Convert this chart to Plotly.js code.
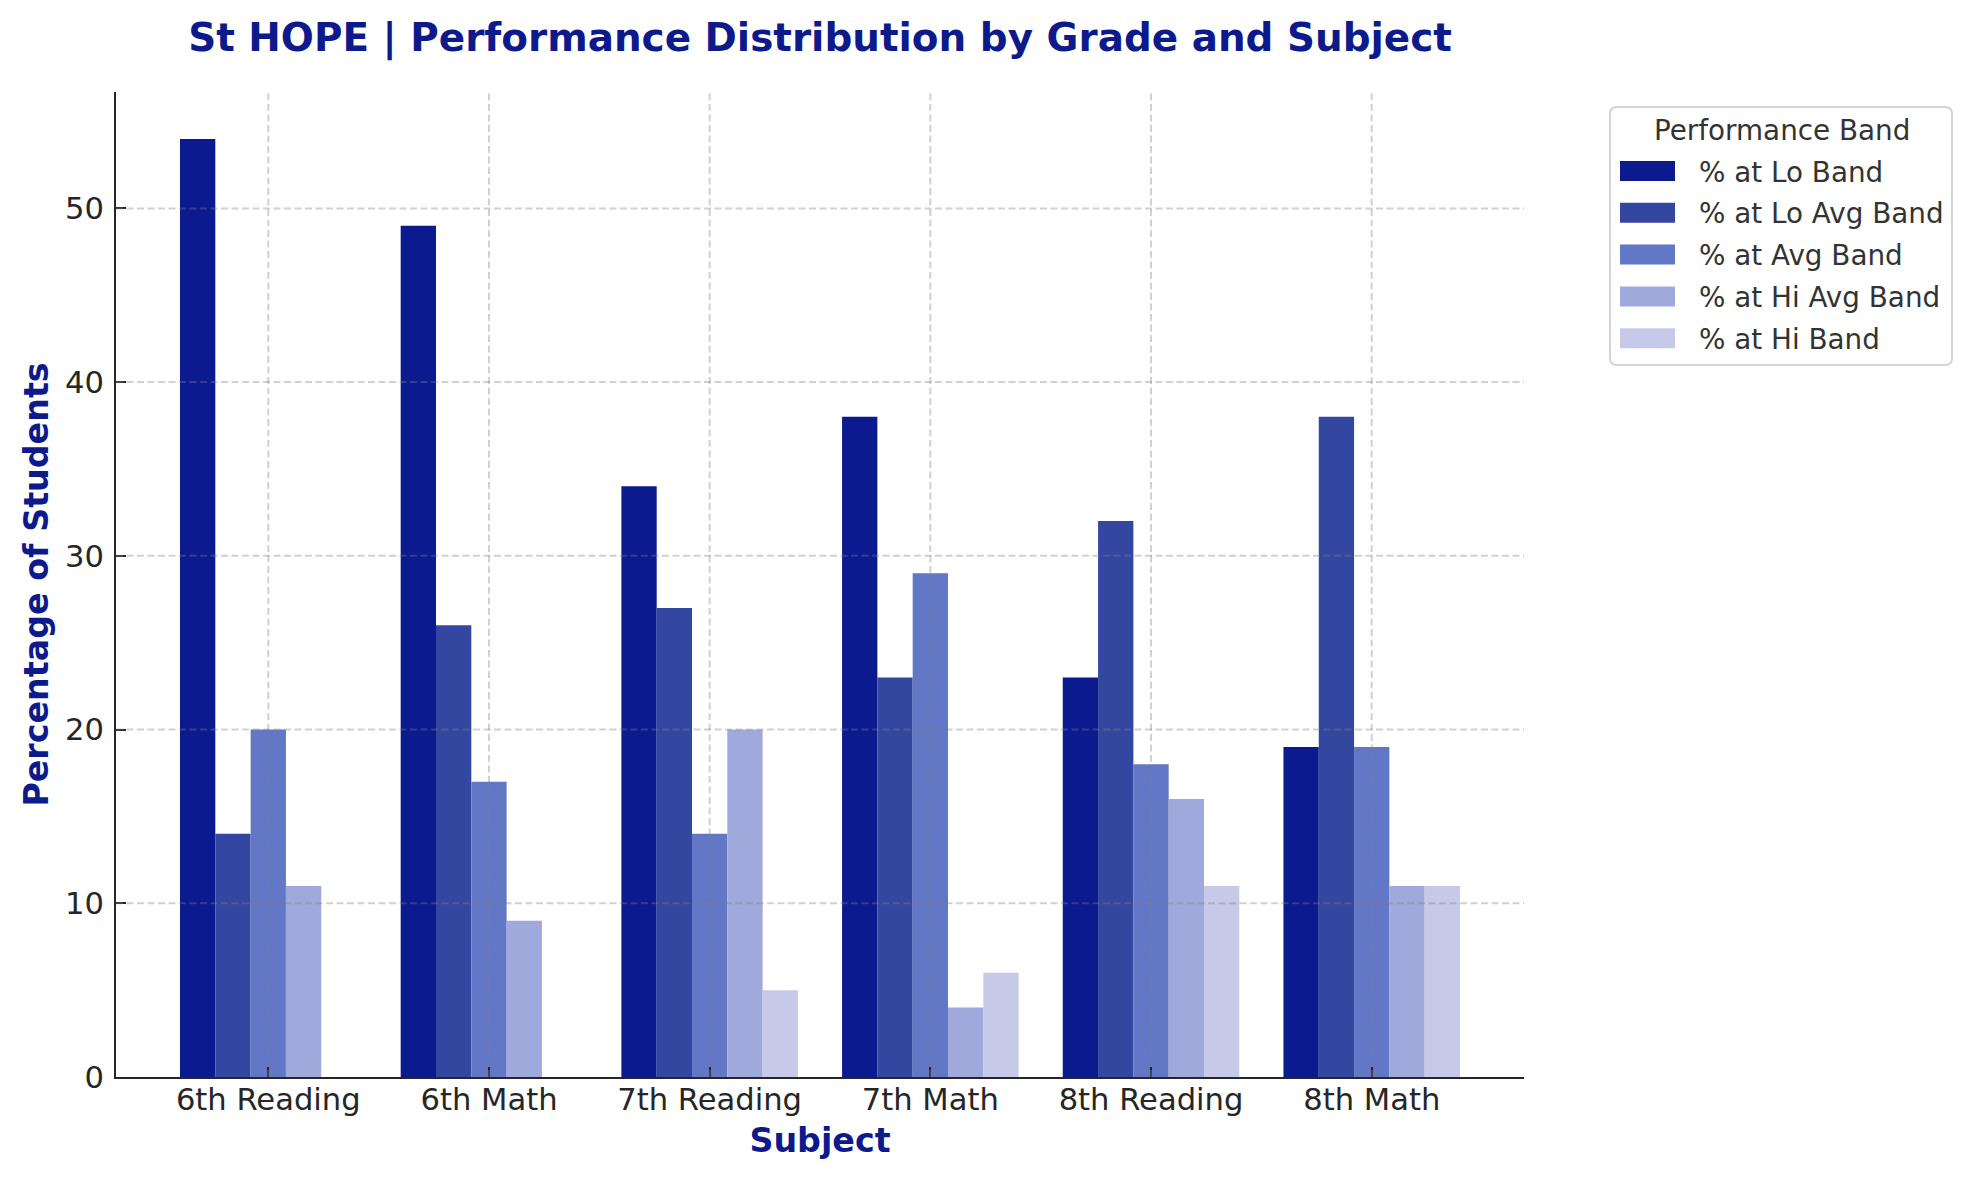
<!DOCTYPE html>
<html>
<head>
<meta charset="utf-8">
<script src="https://cdn.plot.ly/plotly-3.0.1.min.js"></script>
<style>
  html, body { margin: 0; padding: 0; background: #ffffff; }
  #chart { width: 1972px; height: 1180px; }
</style>
</head>
<body>
<div id="chart"></div>
<script>
// ---- Data ----
const categories = ['6th Reading', '6th Math', '7th Reading', '7th Math', '8th Reading', '8th Math'];
const seriesNames = ['% at Lo Band', '% at Lo Avg Band', '% at Avg Band', '% at Hi Avg Band', '% at Hi Band'];
const loBand    = [54, 49, 34, 38, 23, 19];
const loAvgBand = [14, 26, 27, 23, 32, 38];
const avgBand   = [20, 17, 14, 29, 18, 19];
const hiAvgBand = [11, 9, 20, 4, 16, 11];
const hiBand    = [null, null, 5, 6, 11, 11];
const yTickVals = [0, 10, 20, 30, 40, 50];
const legendTitle = 'Performance Band';
const chartTitle = 'St HOPE | Performance Distribution by Grade and Subject';
const xTitle = 'Subject';
const yTitle = 'Percentage of Students';

// ---- Styles ----
const seriesColors = ['#0B1A8E', '#3447A0', '#6277C5', '#A0A9DB', '#C6CAE8'];
const navy = '#0C1A8C';
const font = 'DejaVu Sans, Verdana, sans-serif';

const seriesValues = [loBand, loAvgBand, avgBand, hiAvgBand, hiBand];

const traces = seriesValues.map((vals, i) => ({
  type: 'bar',
  name: seriesNames[i],
  x: categories,
  y: vals,
  marker: { color: seriesColors[i], line: { width: 0 } },
  showlegend: false,
  hoverinfo: 'x+y+name'
}));

// plot area in pixels
const L = 116, R = 1524, T = 92, B = 1077;
const W = R - L, H = B - T;
const px = v => (v - L) / W;
const py = v => (B - v) / H;

const gridLine = { color: 'rgba(128,128,128,0.36)', width: 2, dash: '7px,3.5px' };
const shapes = [];
yTickVals.filter(v => v > 0).forEach(v => {
  shapes.push({ type: 'line', layer: 'above', xref: 'paper', yref: 'y', x0: 0, x1: 1, y0: v, y1: v, line: gridLine });
});
categories.forEach((c, i) => {
  shapes.push({ type: 'line', layer: 'above', xref: 'x', yref: 'paper', x0: i, x1: i, y0: 0, y1: 1, line: gridLine });
});

// custom legend (matplotlib-like)
const annotations = [];
const bx0 = 1610, bx1 = 1952, by0 = 107, by1 = 365, rad = 7;
const rx = rad / W, ry = rad / H;
const X0 = px(bx0), X1 = px(bx1), Y0 = py(by1), Y1 = py(by0);
shapes.push({
  type: 'path', xref: 'paper', yref: 'paper', layer: 'above',
  path: `M${X0 + rx},${Y0} L${X1 - rx},${Y0} Q${X1},${Y0} ${X1},${Y0 + ry} L${X1},${Y1 - ry} Q${X1},${Y1} ${X1 - rx},${Y1} L${X0 + rx},${Y1} Q${X0},${Y1} ${X0},${Y1 - ry} L${X0},${Y0 + ry} Q${X0},${Y0} ${X0 + rx},${Y0} Z`,
  fillcolor: 'rgba(255,255,255,0.8)',
  line: { color: '#d4d4d4', width: 2 }
});
annotations.push({
  xref: 'paper', yref: 'paper', x: px(1782), y: py(130), xanchor: 'center', yanchor: 'middle',
  text: legendTitle, showarrow: false, font: { family: font, size: 27.8, color: '#333333' }
});
seriesNames.forEach((n, i) => {
  const cy = 171 + i * 41.8;
  shapes.push({
    type: 'rect', xref: 'paper', yref: 'paper', layer: 'above',
    x0: px(1620), x1: px(1675), y0: py(cy + 10), y1: py(cy - 10),
    fillcolor: seriesColors[i], line: { width: 0 }
  });
  annotations.push({
    xref: 'paper', yref: 'paper', x: px(1697), y: py(cy + 1), xanchor: 'left', yanchor: 'middle',
    text: n, showarrow: false, font: { family: font, size: 27.8, color: '#333333' }
  });
});

const axisCommon = {
  showline: true, linecolor: '#262626', linewidth: 2,
  ticks: 'inside', ticklen: 9.7, tickwidth: 2, tickcolor: '#262626',
  showgrid: false, zeroline: false, layer: 'above traces',
  tickfont: { family: font, size: 30.6, color: '#262626' }
};

const layout = {
  width: 1972, height: 1180,
  paper_bgcolor: '#ffffff', plot_bgcolor: '#ffffff',
  margin: { l: L, r: 1972 - R, t: T, b: 1180 - B, pad: 0 },
  showlegend: false,
  barmode: 'group', bargap: 0.2, bargroupgap: 0,
  title: {
    text: chartTitle,
    font: { family: font, size: 38.9, color: navy, weight: 'bold' },
    xref: 'paper', x: 0.5, xanchor: 'center',
    yref: 'container', y: 1 - 37 / 1180, yanchor: 'middle'
  },
  xaxis: Object.assign({}, axisCommon, {
    type: 'category', range: [-0.69, 5.69],
    ticklabelstandoff: -6,
    title: { text: xTitle, font: { family: font, size: 33.3, color: navy, weight: 'bold' }, standoff: 13 }
  }),
  yaxis: Object.assign({}, axisCommon, {
    range: [0, 56.7], tickvals: yTickVals, ticktext: yTickVals.map(String),
    ticklabelstandoff: 4,
    title: { text: yTitle, font: { family: font, size: 33.3, color: navy, weight: 'bold' }, standoff: 6 }
  }),
  shapes: shapes,
  annotations: annotations
};

Plotly.newPlot('chart', traces, layout, { displayModeBar: false, staticPlot: true });
</script>
</body>
</html>
